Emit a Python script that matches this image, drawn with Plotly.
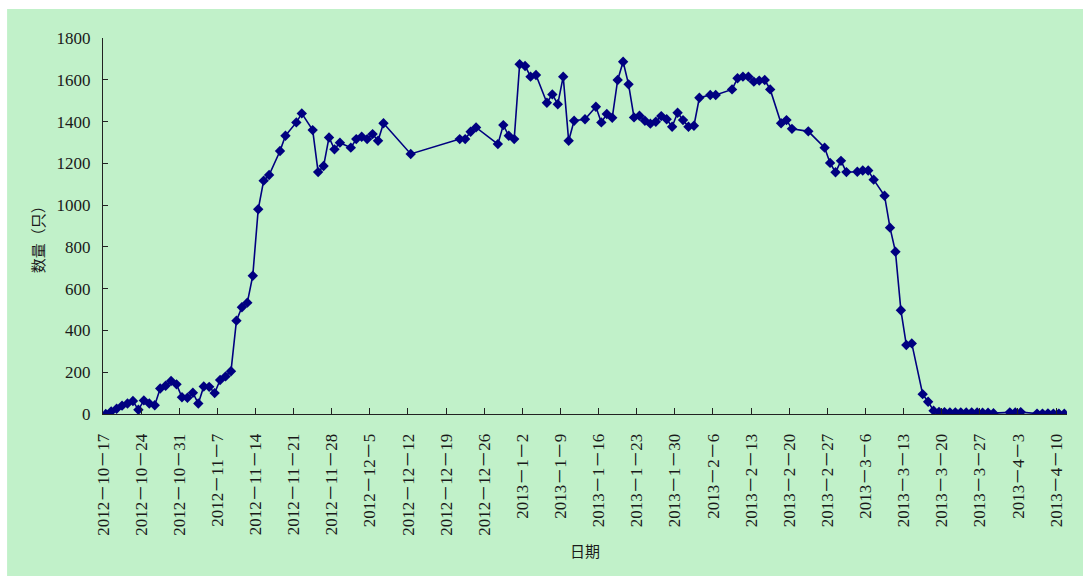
import plotly.graph_objects as go

# Daily counts (只) of the observed flock, 2012-10-17 .. 2013-04-11
dates = [
    "2012-10-17", "2012-10-18", "2012-10-19", "2012-10-20", "2012-10-21",
    "2012-10-22", "2012-10-23", "2012-10-24", "2012-10-25", "2012-10-26",
    "2012-10-27", "2012-10-28", "2012-10-29", "2012-10-30", "2012-10-31",
    "2012-11-01", "2012-11-02", "2012-11-03", "2012-11-04", "2012-11-05",
    "2012-11-06", "2012-11-07", "2012-11-08", "2012-11-09", "2012-11-10",
    "2012-11-11", "2012-11-12", "2012-11-13", "2012-11-14", "2012-11-15",
    "2012-11-16", "2012-11-18", "2012-11-19", "2012-11-21", "2012-11-22",
    "2012-11-24", "2012-11-25", "2012-11-26", "2012-11-27", "2012-11-28",
    "2012-11-29", "2012-12-01", "2012-12-02", "2012-12-03", "2012-12-04",
    "2012-12-05", "2012-12-06", "2012-12-07", "2012-12-12", "2012-12-21",
    "2012-12-22", "2012-12-23", "2012-12-24", "2012-12-28", "2012-12-29",
    "2012-12-30", "2012-12-31", "2013-01-01", "2013-01-02", "2013-01-03",
    "2013-01-04", "2013-01-06", "2013-01-07", "2013-01-08", "2013-01-09",
    "2013-01-10", "2013-01-11", "2013-01-13", "2013-01-15", "2013-01-16",
    "2013-01-17", "2013-01-18", "2013-01-19", "2013-01-20", "2013-01-21",
    "2013-01-22", "2013-01-23", "2013-01-24", "2013-01-25", "2013-01-26",
    "2013-01-27", "2013-01-28", "2013-01-29", "2013-01-30", "2013-01-31",
    "2013-02-01", "2013-02-02", "2013-02-03", "2013-02-05", "2013-02-06",
    "2013-02-09", "2013-02-10", "2013-02-11", "2013-02-12", "2013-02-13",
    "2013-02-14", "2013-02-15", "2013-02-16", "2013-02-18", "2013-02-19",
    "2013-02-20", "2013-02-23", "2013-02-26", "2013-02-27", "2013-02-28",
    "2013-03-01", "2013-03-02", "2013-03-04", "2013-03-05", "2013-03-06",
    "2013-03-07", "2013-03-09", "2013-03-10", "2013-03-11", "2013-03-12",
    "2013-03-13", "2013-03-14", "2013-03-16", "2013-03-17", "2013-03-18",
    "2013-03-19", "2013-03-20", "2013-03-21", "2013-03-22", "2013-03-23",
    "2013-03-24", "2013-03-25", "2013-03-26", "2013-03-27", "2013-03-28",
    "2013-03-29", "2013-04-01", "2013-04-02", "2013-04-03", "2013-04-06",
    "2013-04-07", "2013-04-08", "2013-04-09", "2013-04-10", "2013-04-11",
]

counts = [
    0, 12, 25, 40, 50,
    62, 20, 65, 50, 42,
    122, 135, 158, 142, 80,
    78, 102, 50, 132, 130,
    100, 163, 180, 205, 447,
    511, 533, 662, 980, 1117,
    1144, 1259, 1332, 1396, 1439,
    1359, 1158, 1187, 1324, 1267,
    1299, 1275, 1316, 1327, 1316,
    1340, 1308, 1392, 1245, 1316,
    1316, 1351, 1372, 1292, 1383,
    1332, 1316, 1674, 1666, 1615,
    1623, 1490, 1530, 1483, 1615,
    1308, 1404, 1411, 1471, 1396,
    1436, 1418, 1599, 1686, 1578,
    1420, 1428, 1404, 1390, 1399,
    1426, 1411, 1375, 1442, 1407,
    1375, 1380, 1514, 1527, 1527,
    1554, 1607, 1615, 1615, 1591,
    1596, 1599, 1554, 1392, 1407,
    1365, 1353, 1275, 1202, 1157,
    1212, 1158, 1160, 1166, 1166,
    1122, 1045, 892, 777, 497,
    330, 338, 95, 59, 16,
    10, 9, 8, 8, 8,
    7, 8, 7, 6, 6,
    4, 8, 7, 9, 2,
    2, 3, 2, 2, 1,
]

x_range = ["2012-10-17", "2013-04-12"]
y_range = [0, 1800]
y_title = "数量（只）"
x_title = "日期"

GREEN = "#C1F1C9"
NAVY = "#000080"
INK = "#1a1a1a"
DAY_MS = 86400000

fig = go.Figure(
    go.Scatter(
        x=dates,
        y=counts,
        mode="lines+markers",
        xperiod=DAY_MS,
        xperiodalignment="middle",
        line=dict(color=NAVY, width=1.6),
        marker=dict(symbol="diamond", size=8, color=NAVY),
        hoverinfo="x+y",
    )
)

fig.update_layout(
    width=1083,
    height=576,
    autosize=False,
    margin=dict(l=103, r=16, t=38, b=162),
    paper_bgcolor="white",
    plot_bgcolor=GREEN,
    showlegend=False,
    font=dict(family="Liberation Serif, Noto Sans CJK SC, serif", size=17, color=INK),
    shapes=[
        # green chart-area panel framing the plot
        dict(
            type="rect", xref="paper", yref="paper", layer="below",
            x0=-0.0995, x1=1.02, y0=-0.44, y1=1.077,
            fillcolor=GREEN, line=dict(width=0),
        )
    ],
    annotations=[
        dict(
            text=y_title, xref="paper", yref="paper", x=-0.0685, y=0.475,
            textangle=-90, showarrow=False, xanchor="center", yanchor="middle",
            font=dict(family="Noto Sans CJK SC", size=15, color=INK),
        ),
        dict(
            text=x_title, xref="paper", yref="paper", x=0.5, y=-0.364,
            showarrow=False, xanchor="center", yanchor="middle",
            font=dict(family="Noto Sans CJK SC", size=15, color=INK),
        ),
    ],
)

fig.update_xaxes(
    type="date",
    range=x_range,
    tick0="2012-10-17",
    dtick=7 * DAY_MS,
    tickformat="%Y－%-m－%-d",
    tickangle=-90,
    ticks="inside",
    ticklen=6,
    tickcolor="#222",
    showline=True,
    linecolor="#222",
    linewidth=1,
    showgrid=False,
    zeroline=False,
    ticklabelstandoff=12,
    tickfont=dict(family="Liberation Serif, Noto Sans CJK SC, serif", size=17, color=INK),
)

fig.update_yaxes(
    range=y_range,
    dtick=200,
    ticks="inside",
    ticklen=5,
    tickcolor="#222",
    showline=True,
    linecolor="#222",
    linewidth=1,
    showgrid=False,
    zeroline=False,
    ticklabelstandoff=8,
    tickfont=dict(family="Liberation Serif, serif", size=17, color=INK),
)

fig.write_html("out.html")
